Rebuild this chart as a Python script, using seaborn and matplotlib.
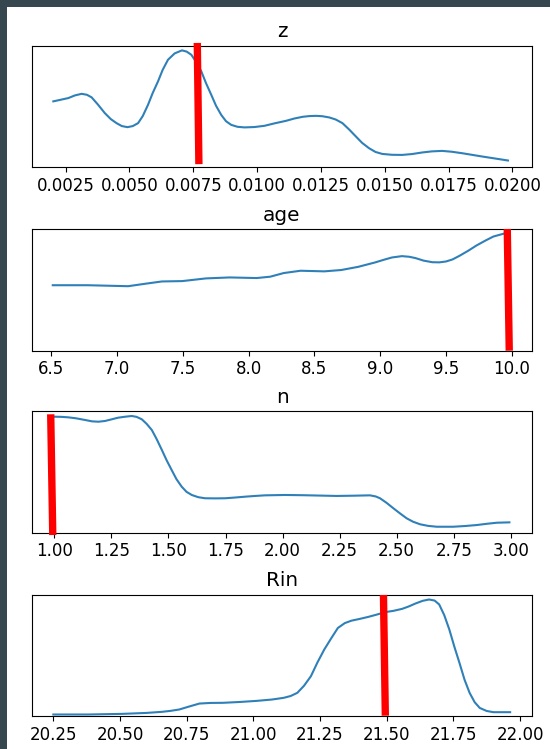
import numpy as np
import pandas as pd
import matplotlib
matplotlib.use('Agg')
import matplotlib.pyplot as plt
import matplotlib.transforms as mtransforms
from matplotlib.patches import Rectangle
import seaborn as sns

plt.rcParams['font.size'] = 12

titles = ['z', 'age', 'n', 'Rin']

z_x = [0.002016, 0.002277, 0.002602, 0.002863, 0.003125, 0.003332, 0.003516, 0.003762,
       0.004035, 0.004269, 0.004492, 0.004699, 0.004922, 0.005129, 0.005336, 0.005519,
       0.005726, 0.005910, 0.006117, 0.006300, 0.006508, 0.006769, 0.007054, 0.007238,
       0.007422, 0.007609, 0.007812, 0.007999, 0.008203, 0.008390, 0.008593, 0.008781,
       0.008984, 0.009230, 0.009504, 0.009894, 0.010285, 0.010676, 0.011132, 0.011457,
       0.011781, 0.012043, 0.012305, 0.012550, 0.012824, 0.013078, 0.013343, 0.013605,
       0.013867, 0.014113, 0.014386, 0.014640, 0.014906, 0.015284, 0.015687, 0.016066,
       0.016468, 0.016847, 0.017249, 0.017628, 0.018031, 0.018409, 0.018812, 0.019308,
       0.019828]
z_y = [0.541, 0.553, 0.568, 0.590, 0.603, 0.595, 0.574, 0.515,
       0.444, 0.395, 0.362, 0.338, 0.329, 0.338, 0.362, 0.420,
       0.513, 0.610, 0.705, 0.800, 0.883, 0.935, 0.960, 0.950,
       0.924, 0.865, 0.788, 0.690, 0.595, 0.505, 0.430, 0.378,
       0.348, 0.332, 0.327, 0.330, 0.340, 0.360, 0.381, 0.400,
       0.414, 0.420, 0.422, 0.419, 0.409, 0.392, 0.362, 0.310,
       0.253, 0.200, 0.156, 0.125, 0.109, 0.102, 0.101, 0.108,
       0.121, 0.130, 0.134, 0.127, 0.115, 0.102, 0.088, 0.072,
       0.055]

age_x = [6.510, 6.775, 7.083, 7.212, 7.340, 7.495, 7.674, 7.854, 8.060, 8.163,
         8.266, 8.394, 8.575, 8.703, 8.832, 8.960, 9.030, 9.089, 9.165, 9.220,
         9.268, 9.330, 9.397, 9.450, 9.500, 9.550, 9.603, 9.670, 9.731, 9.800,
         9.860, 9.937]
age_y = [0.538, 0.538, 0.530, 0.550, 0.569, 0.572, 0.594, 0.602, 0.597, 0.608,
         0.638, 0.657, 0.652, 0.663, 0.689, 0.725, 0.748, 0.766, 0.777, 0.772,
         0.761, 0.740, 0.727, 0.726, 0.733, 0.750, 0.780, 0.822, 0.864, 0.905,
         0.938, 0.961]

n_x = [1.000, 1.029, 1.061, 1.095, 1.135, 1.165, 1.193, 1.222, 1.252, 1.279,
       1.310, 1.339, 1.360, 1.383, 1.404, 1.427, 1.448, 1.471, 1.492, 1.514,
       1.535, 1.558, 1.579, 1.602, 1.630, 1.660, 1.704, 1.748, 1.792, 1.836,
       1.880, 1.923, 2.011, 2.091, 2.164, 2.237, 2.309, 2.383, 2.408, 2.427,
       2.456, 2.486, 2.515, 2.544, 2.572, 2.603, 2.638, 2.676, 2.748, 2.800,
       2.851, 2.894, 2.939, 2.994]
n_y = [0.953, 0.952, 0.948, 0.940, 0.926, 0.915, 0.912, 0.918, 0.932, 0.945,
       0.953, 0.959, 0.952, 0.932, 0.895, 0.844, 0.770, 0.680, 0.595, 0.515,
       0.440, 0.378, 0.336, 0.310, 0.292, 0.283, 0.282, 0.283, 0.289, 0.296,
       0.302, 0.307, 0.310, 0.308, 0.305, 0.302, 0.304, 0.307, 0.298, 0.283,
       0.245, 0.200, 0.158, 0.118, 0.090, 0.069, 0.056, 0.049, 0.049, 0.055,
       0.063, 0.073, 0.082, 0.085]

rin_x = [20.250, 20.379, 20.506, 20.600, 20.658, 20.690, 20.722, 20.760, 20.798,
         20.840, 20.886, 20.950, 21.013, 21.070, 21.114, 21.140, 21.165, 21.190,
         21.216, 21.240, 21.266, 21.292, 21.317, 21.343, 21.368, 21.400, 21.431,
         21.463, 21.494, 21.526, 21.558, 21.583, 21.608, 21.635, 21.659, 21.680,
         21.697, 21.716, 21.735, 21.754, 21.773, 21.792, 21.811, 21.830, 21.849,
         21.875, 21.900, 21.963]
rin_y = [0.014, 0.014, 0.019, 0.027, 0.036, 0.044, 0.055, 0.080, 0.104,
         0.109, 0.110, 0.117, 0.126, 0.137, 0.151, 0.166, 0.192, 0.250,
         0.329, 0.440, 0.548, 0.640, 0.725, 0.765, 0.785, 0.800, 0.816,
         0.835, 0.855, 0.866, 0.882, 0.902, 0.926, 0.948, 0.959, 0.950,
         0.918, 0.830, 0.712, 0.570, 0.438, 0.300, 0.192, 0.115, 0.068,
         0.043, 0.033, 0.033]

# best-fit markers (red lines): x at top, x at bottom
red_top = [0.007656, 9.966, 0.984, 21.488]
red_bottom = [0.007719, 9.981, 0.993, 21.495]

xticks = [
    [0.0025, 0.0050, 0.0075, 0.0100, 0.0125, 0.0150, 0.0175, 0.0200],
    [6.5, 7.0, 7.5, 8.0, 8.5, 9.0, 9.5, 10.0],
    [1.00, 1.25, 1.50, 1.75, 2.00, 2.25, 2.50, 2.75, 3.00],
    [20.25, 20.50, 20.75, 21.00, 21.25, 21.50, 21.75, 22.00],
]
xlims = [(0.00118, 0.02077), (6.352, 10.154), (0.902, 3.093), (20.17, 22.045)]
red_yspan = [(0.025, 1.021), (0.0, 1.0), (-0.019, 0.973), (0.004, 0.996)]

curves = [(z_x, z_y), (age_x, age_y), (n_x, n_y), (rin_x, rin_y)]

W, H = 550, 749
fig = plt.figure(figsize=(W / 100, H / 100), dpi=100, facecolor='#374750')
fig.patches.append(Rectangle((7 / W, 0), 1 - 7 / W, (H - 7) / H, transform=fig.transFigure,
                             facecolor='white', edgecolor='none', zorder=-10))

tops = [45.5, 229.0, 411.0, 594.5]
ah = 121.7
for i in range(4):
    ax = fig.add_axes([32 / W, 1 - (tops[i] + ah) / H, 500 / W, ah / H])
    cx, cy = curves[i]
    df = pd.DataFrame({'x': cx, 'y': cy})
    sns.lineplot(data=df, x='x', y='y', ax=ax, color='#2f80b8', linewidth=1.5)
    trans = mtransforms.blended_transform_factory(ax.transData, ax.transAxes)
    y0, y1 = red_yspan[i]
    ax.plot([red_top[i], red_bottom[i]], [y1, y0], transform=trans, color='red',
            linewidth=5.3, solid_capstyle='butt', clip_on=False, zorder=5)
    ax.set_xlim(*xlims[i])
    ax.set_ylim(0, 1)
    ax.set_xticks(xticks[i])
    ax.set_yticks([])
    ax.set_xlabel('')
    ax.set_ylabel('')
    ax.set_title(titles[i])

fig.savefig('out.png', dpi=100, facecolor=fig.get_facecolor())
